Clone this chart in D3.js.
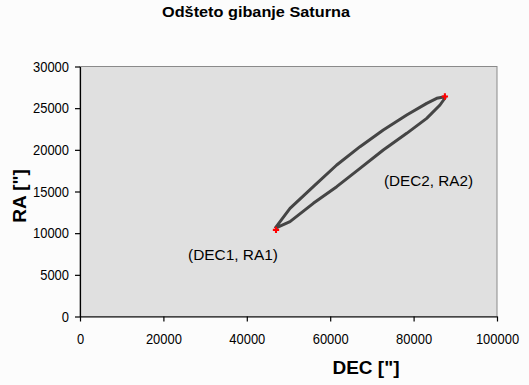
<!DOCTYPE html>
<html>
<head>
<meta charset="utf-8">
<script src="https://cdn.jsdelivr.net/npm/d3@7"></script>
<style>
  body { margin: 0; background: #fcfcfc; }
  text { font-family: "Liberation Sans", Arial, sans-serif; }
</style>
</head>
<body>
<div class="chart"></div>
<script>
// podatki odčitani s slike
var title = "Odšteto gibanje Saturna";
var xTicks = [0, 20000, 40000, 60000, 80000, 100000];
var yTicks = [0, 5000, 10000, 15000, 20000, 25000, 30000];
var upperDec = [46760, 50360, 55950, 61560, 67150, 72730, 78350, 83140, 85540, 87530];
var upperRa  = [10580, 12980, 15580, 18180, 20380, 22380, 24180, 25580, 26180, 26380];
var lowerDec = [87530, 86330, 83140, 78350, 72730, 67150, 61560, 55950, 50360, 46760];
var lowerRa  = [26220, 25380, 23780, 21980, 19980, 17780, 15580, 13580, 11380, 10580];
var endDec = [47000, 87500];
var endRa  = [10400, 26400];
var endLabels = ["(DEC1, RA1)", "(DEC2, RA2)"];

var W = 529, H = 385;
var pl = 80, pt = 66.5, pr = 497, pb = 316.5;

var svg = d3.select(".chart").append("svg")
  .attr("width", W).attr("height", H)
  .style("display", "block");

var x = d3.scaleLinear().domain([0, 100000]).range([pl, pr]);
var y = d3.scaleLinear().domain([0, 30000]).range([pb, pt]);

// ozadje grafa
svg.append("rect")
  .attr("x", pl).attr("y", pt)
  .attr("width", pr - pl).attr("height", pb - pt)
  .attr("fill", "#e0e0e0")
  .attr("stroke", "#8a8a8a").attr("stroke-width", 1);

function narrow(sel) {
  sel.attr("font-size", 15).attr("fill", "#000")
    .attr("lengthAdjust", "spacingAndGlyphs")
    .attr("textLength", function() { return this.textContent.length * 7.2; });
}

var xAxis = svg.append("g")
  .attr("transform", "translate(0," + pb + ")")
  .call(d3.axisBottom(x).tickValues(xTicks).tickSize(5).tickSizeOuter(0).tickFormat(d3.format("d")));
xAxis.selectAll("text").call(narrow).attr("y", 12).attr("dy", "1em");

var yAxis = svg.append("g")
  .attr("transform", "translate(" + pl + ",0)")
  .call(d3.axisLeft(y).tickValues(yTicks).tickSize(5).tickSizeOuter(0).tickFormat(d3.format("d")));
yAxis.selectAll("text").call(narrow).attr("x", -11);

svg.selectAll(".domain, .tick line").attr("stroke", "#000").attr("stroke-width", 1.2);

// tir
var line = d3.line()
  .x(function(d) { return x(d[0]); })
  .y(function(d) { return y(d[1]); });

var loop = upperDec.map(function(d, i) { return [d, upperRa[i]]; })
  .concat(lowerDec.map(function(d, i) { return [d, lowerRa[i]]; }));

svg.append("path")
  .attr("d", line(loop))
  .attr("fill", "none")
  .attr("stroke", "#454545")
  .attr("stroke-width", 3)
  .attr("stroke-linejoin", "round");

svg.selectAll("path.end").data(endDec).enter().append("path")
  .attr("class", "end")
  .attr("transform", function(d, i) { return "translate(" + x(d) + "," + y(endRa[i]) + ")"; })
  .attr("d", d3.symbol().type(d3.symbolCross).size(22))
  .attr("fill", "#ff0000");

// oznake
svg.append("text").attr("x", 188).attr("y", 260)
  .attr("font-size", 15).attr("textLength", 90).attr("lengthAdjust", "spacingAndGlyphs")
  .text(endLabels[0]);
svg.append("text").attr("x", 384).attr("y", 186)
  .attr("font-size", 15).attr("textLength", 89).attr("lengthAdjust", "spacingAndGlyphs")
  .text(endLabels[1]);

svg.append("text").attr("x", 162).attr("y", 17)
  .attr("font-size", 15).attr("font-weight", "bold")
  .attr("textLength", 188).attr("lengthAdjust", "spacingAndGlyphs")
  .text(title);

svg.append("text").attr("x", 366).attr("y", 374).attr("text-anchor", "middle")
  .attr("font-size", 19).attr("font-weight", "bold").text('DEC ["]');

svg.append("text").attr("transform", "translate(26,196) rotate(-90)").attr("text-anchor", "middle")
  .attr("font-size", 19).attr("font-weight", "bold").text('RA ["]');
</script>
</body>
</html>
